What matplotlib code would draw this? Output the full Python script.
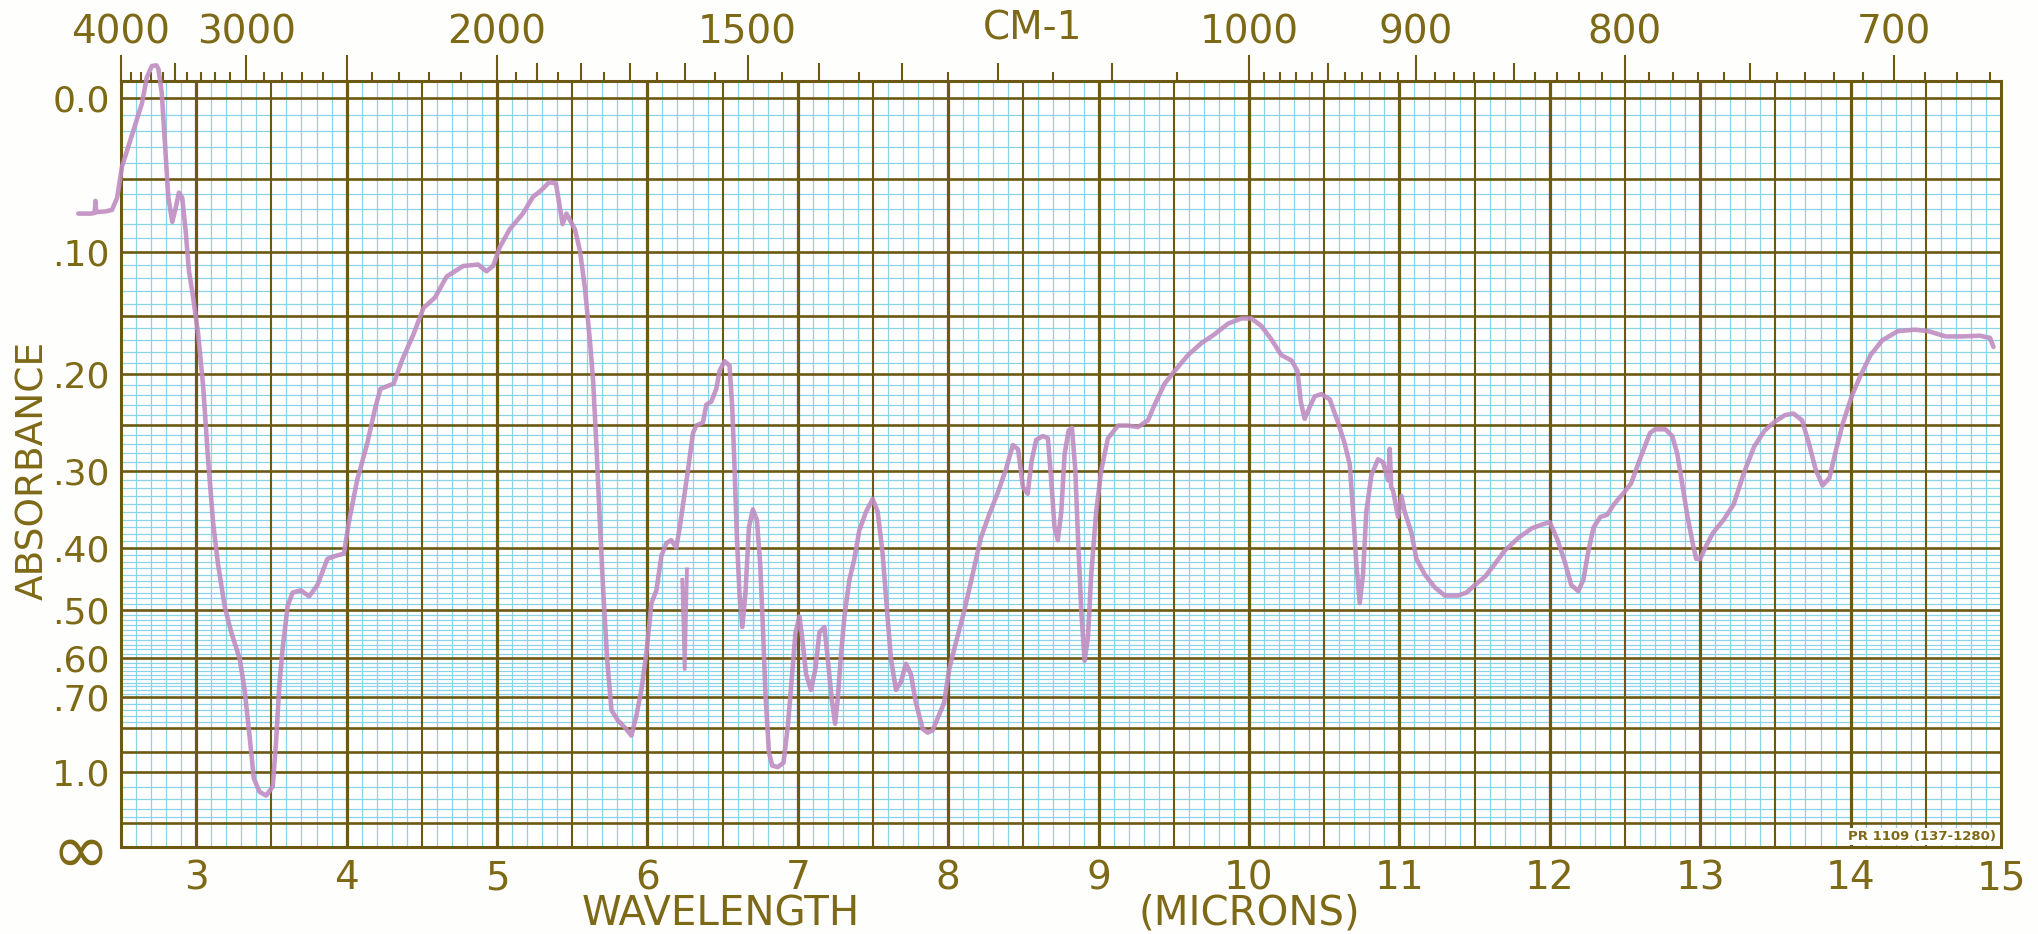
import matplotlib.pyplot as plt
import numpy as np

# trace: wavelength in microns, transmittance as a fraction
# (the paper is ruled linear in transmittance and labelled in absorbance)
wavelength = [
    2.216, 2.30, 2.325, 2.330, 2.335, 2.40, 2.44, 2.474, 2.507, 2.573, 2.639, 2.672,
    2.705, 2.735, 2.749, 2.771, 2.793, 2.815, 2.841, 2.863, 2.885, 2.907, 2.929, 2.952,
    2.980, 3.013, 3.046, 3.079, 3.112, 3.145, 3.189, 3.233, 3.289, 3.322, 3.355, 3.383,
    3.421, 3.465, 3.509, 3.531, 3.553, 3.575, 3.608, 3.641, 3.696, 3.751, 3.806, 3.872,
    3.927, 3.982, 4.015, 4.070, 4.137, 4.192, 4.225, 4.313, 4.368, 4.445, 4.511, 4.588,
    4.665, 4.775, 4.874, 4.930, 4.974, 5.018, 5.084, 5.172, 5.238, 5.293, 5.348, 5.392,
    5.436, 5.462, 5.518, 5.551, 5.584, 5.617, 5.639, 5.662, 5.684, 5.706, 5.732, 5.761,
    5.805, 5.850, 5.894, 5.927, 5.960, 5.993, 6.027, 6.060, 6.093, 6.126, 6.159, 6.192,
    6.215, 6.270, 6.303, 6.325, 6.369, 6.392, 6.425, 6.458, 6.480, 6.513, 6.546, 6.564,
    6.580, 6.595, 6.613, 6.631, 6.653, 6.675, 6.701, 6.728, 6.750, 6.768, 6.785, 6.808,
    6.830, 6.867, 6.905, 6.934, 6.962, 6.985, 7.011, 7.033, 7.055, 7.088, 7.117, 7.144,
    7.177, 7.199, 7.226, 7.248, 7.265, 7.288, 7.310, 7.343, 7.376, 7.409, 7.454, 7.498,
    7.531, 7.564, 7.591, 7.619, 7.653, 7.686, 7.719, 7.752, 7.785, 7.830, 7.863, 7.896,
    7.929, 7.973, 8.007, 8.051, 8.106, 8.162, 8.217, 8.272, 8.327, 8.383, 8.430, 8.465,
    8.497, 8.528, 8.555, 8.585, 8.630, 8.663, 8.685, 8.707, 8.729, 8.752, 8.774, 8.800,
    8.823, 8.845, 8.863, 8.885, 8.907, 8.929, 8.951, 8.984, 9.018, 9.062, 9.129, 9.195,
    9.262, 9.328, 9.373, 9.439, 9.506, 9.594, 9.683, 9.772, 9.860, 9.949, 10.016, 10.082,
    10.149, 10.215, 10.282, 10.322, 10.344, 10.370, 10.404, 10.437, 10.481, 10.537, 10.592, 10.636,
    10.670, 10.692, 10.714, 10.736, 10.758, 10.780, 10.814, 10.858, 10.891, 10.925, 10.936, 10.945,
    10.958, 10.991, 11.013, 11.035, 11.080, 11.113, 11.169, 11.235, 11.302, 11.390, 11.446, 11.501,
    11.568, 11.634, 11.700, 11.791, 11.882, 11.950, 12.000, 12.052, 12.098, 12.143, 12.189, 12.223,
    12.257, 12.291, 12.336, 12.382, 12.427, 12.495, 12.541, 12.586, 12.632, 12.666, 12.700, 12.768,
    12.814, 12.848, 12.882, 12.916, 12.950, 12.973, 13.000, 13.041, 13.086, 13.155, 13.223, 13.291,
    13.359, 13.427, 13.495, 13.564, 13.620, 13.677, 13.723, 13.768, 13.814, 13.859, 13.905, 13.950,
    14.007, 14.064, 14.132, 14.211, 14.314, 14.427, 14.518, 14.632, 14.745, 14.859, 14.927, 14.950,
]
trans = [
    0.845, 0.845, 0.846, 0.862, 0.847, 0.848, 0.850, 0.866, 0.908, 0.950, 0.992, 1.027,
    1.042, 1.043, 1.038, 1.006, 0.936, 0.866, 0.834, 0.852, 0.873, 0.866, 0.824, 0.768,
    0.733, 0.684, 0.615, 0.517, 0.433, 0.377, 0.321, 0.286, 0.251, 0.209, 0.147, 0.091,
    0.073, 0.068, 0.080, 0.140, 0.216, 0.265, 0.321, 0.339, 0.342, 0.334, 0.349, 0.384,
    0.388, 0.391, 0.433, 0.489, 0.538, 0.587, 0.611, 0.618, 0.649, 0.684, 0.719, 0.733,
    0.761, 0.775, 0.777, 0.768, 0.775, 0.800, 0.824, 0.845, 0.867, 0.876, 0.887, 0.885,
    0.831, 0.845, 0.824, 0.796, 0.747, 0.677, 0.622, 0.531, 0.433, 0.342, 0.251, 0.182,
    0.168, 0.159, 0.148, 0.175, 0.209, 0.258, 0.325, 0.342, 0.388, 0.405, 0.409, 0.399,
    0.426, 0.503, 0.552, 0.562, 0.566, 0.590, 0.594, 0.611, 0.635, 0.648, 0.642, 0.587,
    0.503, 0.412, 0.335, 0.293, 0.342, 0.426, 0.450, 0.436, 0.377, 0.293, 0.203, 0.126,
    0.108, 0.106, 0.112, 0.161, 0.230, 0.286, 0.307, 0.272, 0.230, 0.209, 0.237, 0.286,
    0.293, 0.251, 0.196, 0.164, 0.196, 0.258, 0.307, 0.356, 0.384, 0.422, 0.447, 0.464,
    0.447, 0.391, 0.321, 0.251, 0.209, 0.220, 0.244, 0.230, 0.192, 0.157, 0.152, 0.155,
    0.171, 0.192, 0.237, 0.272, 0.314, 0.363, 0.412, 0.443, 0.471, 0.503, 0.536, 0.530,
    0.480, 0.471, 0.515, 0.543, 0.548, 0.545, 0.489, 0.426, 0.409, 0.447, 0.524, 0.555,
    0.559, 0.503, 0.412, 0.314, 0.248, 0.279, 0.363, 0.447, 0.503, 0.545, 0.562, 0.562,
    0.560, 0.569, 0.590, 0.618, 0.635, 0.656, 0.672, 0.684, 0.698, 0.705, 0.705, 0.695,
    0.677, 0.656, 0.649, 0.635, 0.594, 0.571, 0.587, 0.601, 0.604, 0.597, 0.566, 0.538,
    0.510, 0.447, 0.377, 0.325, 0.363, 0.447, 0.496, 0.517, 0.513, 0.489, 0.531, 0.480,
    0.475, 0.440, 0.468, 0.447, 0.419, 0.384, 0.363, 0.346, 0.335, 0.335, 0.339, 0.349,
    0.360, 0.377, 0.395, 0.412, 0.425, 0.430, 0.433, 0.409, 0.381, 0.349, 0.341, 0.356,
    0.395, 0.426, 0.440, 0.443, 0.457, 0.473, 0.485, 0.510, 0.534, 0.552, 0.557, 0.557,
    0.548, 0.524, 0.482, 0.440, 0.405, 0.384, 0.384, 0.402, 0.419, 0.436, 0.457, 0.499,
    0.534, 0.555, 0.567, 0.576, 0.578, 0.569, 0.538, 0.503, 0.482, 0.492, 0.531, 0.566,
    0.601, 0.628, 0.656, 0.676, 0.688, 0.690, 0.688, 0.681, 0.681, 0.682, 0.679, 0.667,
]
# stray pen stroke near 6.25 um
spike_wl = [6.232, 6.248, 6.263]
spike_trans = [0.356, 0.237, 0.370]

# chart paper rulings
abs_major = [0.0, 0.05, 0.10, 0.15, 0.20, 0.25, 0.30, 0.40, 0.50, 0.60, 0.70, 0.80, 0.90, 1.0, 1.5]
abs_minor = ([a / 100 for a in range(1, 70) if a % 5 != 0 and a not in (35, 45, 55, 65)]
             + [0.35, 0.45, 0.55, 0.65, 0.72, 0.74, 0.76, 0.78, 1.1, 1.2, 1.3, 1.4])
abs_ticks = [0.0, 0.10, 0.20, 0.30, 0.40, 0.50, 0.60, 0.70, 1.0]
abs_tick_labels = ['0.0', '.10', '.20', '.30', '.40', '.50', '.60', '.70', '1.0']
micron_ticks = [3, 4, 5, 6, 7, 8, 9, 10, 11, 12, 13, 14, 15]
wn_long = [4000, 3000, 2500, 2000, 1500, 1000, 900, 800, 700]
wn_long_labels = ['4000', '3000', '', '2000', '1500', '1000', '900', '800', '700']
wn_mid = [3500, 1900, 1800, 1700, 1600, 1400, 1300, 1200, 1100, 950, 850, 750]
wn_short = [3900, 3800, 3700, 3600, 3400, 3300, 3200, 3100, 2900, 2800, 2700, 2600,
            2400, 2300, 2200, 2100, 1950, 1850, 1750, 1650, 1550, 1450, 1350, 1250,
            1150, 1050, 990, 980, 970, 960, 940, 930, 920, 910, 890, 880, 870, 860,
            840, 830, 820, 810, 790, 780, 770, 760, 740, 730, 720, 710, 690, 680, 670]

INK = '#6c5a14'      # olive printing of the chart paper
TEXT = '#7d6916'
BLUE = '#8ad3e8'
PEN = '#c08dc2'

W, H = 2038, 934
fig = plt.figure(figsize=(W / 100, H / 100), dpi=100, facecolor='#fefefd')
ax = fig.add_axes([121 / W, 1 - 846.5 / H, 1880 / W, 765.5 / H])
top_T = 765.5 / 749
ax.set_xlim(2.5, 15)
ax.set_ylim(0, top_T)
ax.set_facecolor('white')

def a2t(a):
    return 10 ** (-np.asarray(a, float))

# fine blue grid
fine_x = [x / 10 for x in range(26, 150) if x % 5 != 0]
ax.vlines(fine_x, 0, top_T, colors=BLUE, lw=0.9, zorder=1)
ax.hlines(a2t(abs_minor), 2.5, 15, colors=BLUE, lw=0.9, zorder=1)

# heavy rulings
half_x = [x / 2 for x in range(6, 30)]
ax.vlines([x for x in half_x if x % 1 != 0], 0, top_T, colors=INK, lw=1.5, zorder=2)
ax.vlines([x for x in half_x if x % 1 == 0], 0, top_T, colors=INK, lw=2.3, zorder=2)
ax.hlines(a2t(abs_major), 2.5, 15, colors=INK, lw=1.9, zorder=2)

for s in ax.spines.values():
    s.set_color(INK)
    s.set_linewidth(2.2)
    s.set_zorder(3)

# recorder trace
ax.plot(wavelength, trans, color=PEN, lw=3.3, alpha=0.9, solid_capstyle='round',
        solid_joinstyle='round', zorder=5, clip_on=False)
ax.plot(spike_wl, spike_trans, color=PEN, lw=2.8, alpha=0.9, zorder=5)

# absorbance scale on the left
ax.set_yticks(list(a2t(abs_ticks)) + [0.0], labels=abs_tick_labels + ['\u221e'])
ax.tick_params(axis='y', length=0, pad=8, labelsize=26, labelcolor=TEXT)
ax.get_yticklabels()[-1].set_fontsize(50)

# wavelength scale along the bottom
ax.set_xticks(micron_ticks, labels=[str(m) for m in micron_ticks])
ax.tick_params(axis='x', length=0, pad=9, labelsize=28, labelcolor=TEXT)

# wavenumber scale along the top
def um_to_wn(x):
    x = np.asarray(x, float)
    with np.errstate(divide='ignore'):
        return 1e4 / x

sec = ax.secondary_xaxis('top', functions=(um_to_wn, um_to_wn))
sec.set_xticks(wn_long, labels=wn_long_labels)
sec.set_xticks(wn_short, minor=True)
sec.tick_params(axis='x', which='major', direction='out', length=18.5, width=1.5,
                color=INK, labelsize=28, labelcolor=TEXT, pad=3)
sec.tick_params(axis='x', which='minor', direction='out', length=6.5, width=1.5, color=INK)
sec_mid = ax.secondary_xaxis('top', functions=(um_to_wn, um_to_wn))
sec_mid.set_xticks(wn_mid, labels=[''] * len(wn_mid))
sec_mid.tick_params(axis='x', which='major', direction='out', length=13, width=1.5, color=INK)
sec_mid.xaxis.set_minor_locator(plt.NullLocator())
for s in list(sec.spines.values()) + list(sec_mid.spines.values()):
    s.set_visible(False)

fig.text(1033 / W, 1 - 29 / H, 'CM-1', ha='center', va='center', fontsize=28, color=TEXT)
fig.text(33 / W, 1 - 470 / H, 'ABSORBANCE', rotation=90, ha='center', va='center',
         fontsize=27, color=TEXT)
fig.text(721 / W, 1 - 914 / H, 'WAVELENGTH', ha='center', va='center', fontsize=29, color=TEXT)
fig.text(1249 / W, 1 - 914 / H, '(MICRONS)', ha='center', va='center', fontsize=29, color=TEXT)

ax.text(14.965, 0.013, 'PR 1109 (137-1280)', ha='right', va='center', fontsize=9.5,
        fontweight='bold', color=TEXT, zorder=4,
        bbox=dict(facecolor='white', edgecolor='none', pad=1.5))

fig.savefig('out.png', dpi=100, facecolor=fig.get_facecolor())
